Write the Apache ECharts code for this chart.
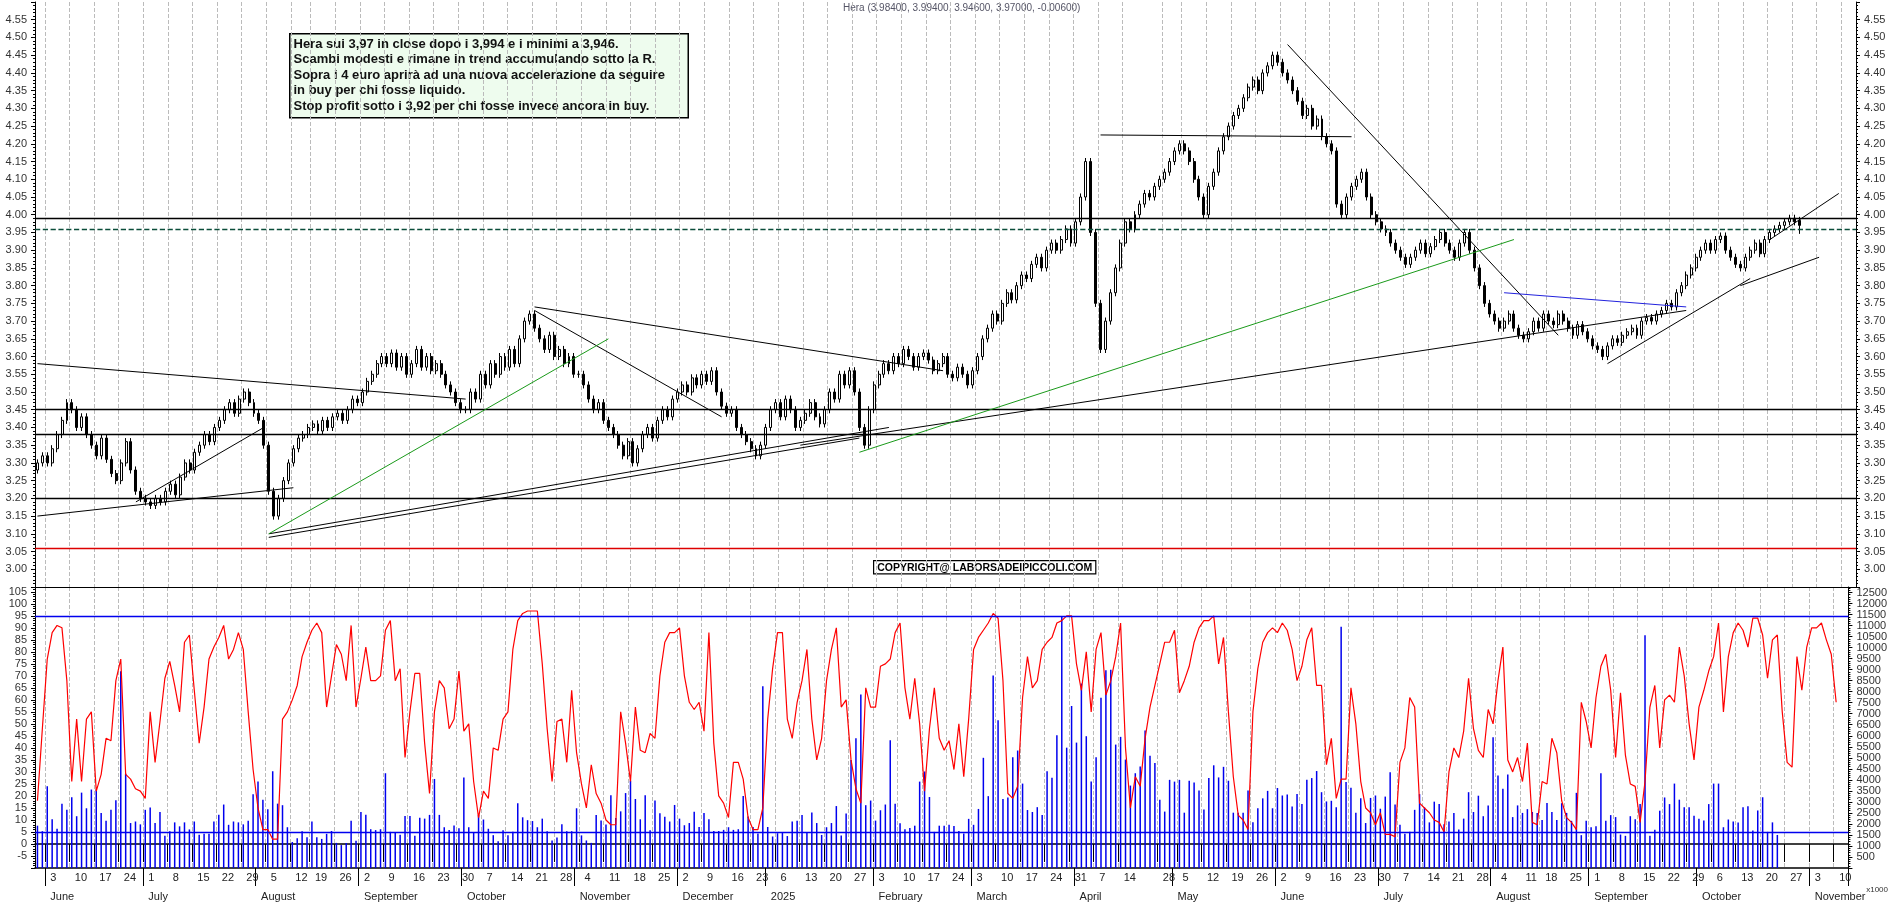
<!DOCTYPE html>
<html>
<head>
<meta charset="utf-8">
<script src="https://cdn.jsdelivr.net/npm/echarts@6/dist/echarts.min.js"></script>
<style>
html, body { margin: 0; padding: 0; background: #fff; }
#chart { width: 1890px; height: 902px; }
</style>
</head>
<body>
<div id="chart"></div>
<script>
// closing prices, month by month (trading days)
var closeMay24 = [3.30, 3.32];
var closeJun24 = [3.30,3.34,3.38,3.42,3.47,3.45,3.40,3.43,3.38,3.35,3.32,3.37,3.31,3.27,3.25,3.30,3.36,3.28,3.22,3.20];
var closeJul24 = [3.19,3.18,3.20,3.19,3.22,3.24,3.21,3.26,3.30,3.28,3.33,3.35,3.38,3.36,3.40,3.42,3.45,3.47,3.44,3.48,3.50,3.47,3.44];
var closeAug24 = [3.42,3.35,3.22,3.15,3.20,3.25,3.30,3.34,3.37,3.38,3.40,3.41,3.39,3.42,3.40,3.43,3.44,3.42,3.45,3.48,3.47];
var closeSep24 = [3.50,3.53,3.55,3.58,3.60,3.58,3.61,3.57,3.60,3.55,3.58,3.62,3.57,3.60,3.56,3.58,3.55,3.52,3.50,3.47,3.45];
var closeOct24 = [3.45,3.50,3.48,3.55,3.52,3.58,3.55,3.60,3.57,3.62,3.58,3.65,3.70,3.72,3.68,3.65,3.62,3.66,3.60,3.62,3.58,3.60,3.55];
var closeNov24 = [3.55,3.52,3.48,3.45,3.47,3.42,3.40,3.38,3.35,3.32,3.36,3.30,3.34,3.38,3.40,3.37,3.42,3.45,3.43,3.48,3.50];
var closeDec24 = [3.52,3.50,3.54,3.52,3.55,3.53,3.56,3.50,3.46,3.44,3.45,3.40,3.38,3.36,3.34,3.32,3.35,3.40];
var closeJan25 = [3.45,3.47,3.43,3.48,3.45,3.40,3.42,3.44,3.47,3.43,3.41,3.45,3.50,3.48,3.55,3.52,3.56,3.50,3.40,3.35,3.45,3.52];
var closeFeb25 = [3.55,3.58,3.56,3.60,3.58,3.62,3.60,3.57,3.60,3.61,3.59,3.56,3.58,3.60,3.55,3.54,3.57,3.55,3.52,3.56];
var closeMar25 = [3.60,3.65,3.68,3.72,3.70,3.75,3.78,3.76,3.80,3.83,3.82,3.86,3.88,3.85,3.90,3.92,3.90,3.93,3.96,3.92,3.98];
var closeApr25 = [4.05,4.15,3.95,3.75,3.62,3.70,3.78,3.85,3.92,3.98,3.96,4.00,4.03,4.06,4.05,4.08,4.10,4.12,4.15,4.18];
var closeMay25 = [4.20,4.18,4.15,4.10,4.05,4.00,4.08,4.12,4.18,4.22,4.25,4.28,4.30,4.33,4.36,4.38,4.35,4.40,4.42,4.45,4.43];
var closeJun25 = [4.40,4.38,4.35,4.32,4.28,4.30,4.25,4.27,4.22,4.20,4.18,4.03,4.00,4.05,4.08,4.10,4.12,4.05,4.00,3.98,3.96];
var closeJul25 = [3.95,3.92,3.90,3.88,3.86,3.88,3.90,3.92,3.89,3.91,3.93,3.95,3.92,3.90,3.88,3.92,3.95,3.90,3.85,3.80,3.75,3.72,3.70];
var closeAug25 = [3.68,3.70,3.72,3.68,3.66,3.65,3.67,3.70,3.68,3.72,3.70,3.69,3.72,3.70,3.68,3.66,3.69,3.67,3.65,3.63];
var closeSep25 = [3.62,3.60,3.63,3.65,3.64,3.66,3.67,3.68,3.66,3.70,3.71,3.70,3.72,3.73,3.75,3.74,3.78,3.80,3.83,3.85,3.88,3.90];
var closeOct25 = [3.92,3.90,3.93,3.94,3.90,3.88,3.86,3.85,3.88,3.90,3.92,3.89,3.93,3.95,3.96,3.97,3.98,3.99,3.98,3.97];
var lastBar = [3.984, 3.970, 3.946, 3.994]; // open, close, low, high

// stochastic oscillator (%)
var stoch = [
 18,48,77,88,91,90,68,26,52,26,52,55,22,29,44,43,68,77,29,27,23,22,19,55,34,51,69,76,66,55,84,87,64,42,57,77,82,86,91,77,81,88,81,55,31,15,6,6,2,2,52,55,60,66,78,84,89,92,88,57,70,83,79,68,91,57,69,82,68,68,70,89,93,68,73,36,55,71,71,42,21,55,68,65,48,52,72,47,50,26,11,22,19,40,
 39,52,55,81,93,96,97,97,97,75,48,26,51,52,34,64,38,25,15,33,21,17,10,8,8,55,42,26,57,39,38,46,44,70,84,88,88,90,70,59,56,59,47,88,42,20,17,11,34,34,27,11,6,6,15,52,73,88,88,52,44,59,68,81,52,35,44,68,81,90,57,60,35,23,17,65,57,57,74,75,77,88,92,65,52,69,50,22,48,65,44,39,43,31,50,
 28,52,81,86,89,92,96,94,68,21,19,24,61,78,65,68,81,84,86,92,93,95,95,75,64,80,55,81,88,62,68,78,92,40,15,28,24,44,57,66,75,84,84,89,63,68,74,84,90,93,93,95,75,86,55,28,12,10,6,55,73,84,88,90,88,92,89,81,68,74,85,90,66,66,33,44,19,27,27,65,50,26,15,13,8,13,4,4,3,34,40,61,57,17,15,13,10,
 9,5,30,40,36,47,69,48,39,36,56,50,68,82,35,30,36,26,42,9,8,26,25,44,38,18,11,9,6,59,51,40,61,74,79,64,36,63,37,25,24,9,26,57,66,40,60,62,59,82,70,50,35,57,64,72,78,92,55,78,88,92,89,82,94,94,87,69,85,87,55,34,32,78,64,82,90,90,92,85,79,59
];

// volume (shares x1000 on the axis scale)
var volume = [
 1920,1670,3710,2210,1780,2920,2640,3210,2350,3420,2710,3560,3560,2490,2140,2640,3070,8930,4280,2040,2110,1980,2640,2740,2040,2540,1460,1670,2070,1890,2070,1750,2110,1510,1550,1550,2110,2420,2880,1960,2110,2070,1980,2140,3350,3920,3100,2670,4390,2920,2850,1850,1180,1350,1670,1390,2110,1390,1320,1550,1680,1140,1040,1140,2140,1240,2540,2420,1760,1720,1760,4300,1640,1600,1510,2360,2360,1460,2280,2240,2410,4040,2410,1850,1720,1930,1800,4110,1850,1600,2410,2200,1780,
 1490,1210,1710,1490,1640,2940,2300,2170,2130,1850,2240,1670,1250,1380,1980,1670,1670,2710,1480,1250,1140,2400,2160,1970,3300,2270,2570,3400,3960,3130,2210,3300,1710,3060,2480,2330,2110,2860,2240,1940,2040,2550,1860,2490,2210,1680,1680,1730,1850,1730,1760,3270,2340,1860,1570,8250,1860,1430,1580,1620,1450,2110,2140,2410,1590,2520,2040,1500,1850,2040,2810,1480,2470,4900,5890,7870,2850,3060,2150,2620,2880,5800,2910,2030,1760,1810,1920,3920,4380,3220,1640,1920,1920,1960,
 1910,1680,1560,2230,1960,2680,5000,3260,8740,6700,3130,3200,5020,5330,3830,2630,2540,2760,2410,4390,4090,6020,11400,5460,7350,5690,8370,5980,3920,5020,7730,8970,9000,5600,5950,4920,3740,4300,4610,6240,5090,4760,3100,2560,4000,3920,4000,2510,3960,3880,3520,2650,4080,4660,4110,4590,3960,2510,2510,2510,3520,2080,2710,3160,3500,2710,3630,3290,3330,2790,3360,2900,4000,4080,4400,3440,3020,3050,2760,10950,3900,3640,2510,3160,2040,3180,3290,2690,3240,4350,2880,1960,
 1550,1650,2640,3350,2750,2070,3010,2900,1990,2110,2500,1750,2240,3440,2540,3280,2350,2840,5930,4200,3600,4240,2310,2840,2500,2670,2540,2500,2180,2950,2540,2180,2940,2500,2140,3410,1490,2140,1850,1890,4300,2140,2400,2310,1520,1460,2350,2210,2900,10560,1460,1740,2600,3200,2900,3830,3100,2760,2760,2370,2240,2150,2900,3830,3830,1850,2200,2110,2070,2760,2800,1700,2610,3210,1640,2070,1500
];

// horizontal levels and trend lines drawn on the price panel
var levelsBlack = [3.99, 3.45, 3.375, 3.20];
var levelDashed = 3.96;
var levelRed = 3.065;
var trendBlack = [
  [['2024-05-30', 3.58], ['2024-10-01', 3.48]],
  [['2024-10-21', 3.74], ['2025-02-20', 3.56]],
  [['2024-10-21', 3.73], ['2024-12-12', 3.43]],
  [['2024-08-05', 3.09], ['2025-01-28', 3.37]],
  [['2024-08-05', 3.10], ['2025-02-05', 3.40]],
  [['2024-05-30', 3.15], ['2024-08-12', 3.23]],
  [['2024-06-27', 3.19], ['2024-08-02', 3.40]],
  [['2025-01-10', 3.35], ['2025-09-25', 3.73]],
  [['2025-04-07', 4.225], ['2025-06-20', 4.22]],
  [['2025-06-03', 4.48], ['2025-08-20', 3.66]],
  [['2025-09-03', 3.58], ['2025-10-14', 3.82]],
  [['2025-10-10', 3.80], ['2025-11-03', 3.88]],
  [['2025-10-20', 3.93], ['2025-11-07', 4.06]]
];
var trendGreen = [
  [['2024-08-05', 3.10], ['2024-11-11', 3.65]],
  [['2025-01-28', 3.33], ['2025-08-06', 3.93]]
];
var trendBlue = [
  [['2025-08-04', 3.78], ['2025-09-25', 3.74]]
];

var holidays = ['2024-08-15','2024-12-24','2024-12-25','2024-12-26','2024-12-31','2025-01-01',
  '2025-04-18','2025-04-21','2025-05-01','2025-08-15'];
var monthNames = ['January','February','March','April','May','June','July','August',
  'September','October','November','December'];

function pad(n) { return n < 10 ? '0' + n : '' + n; }
function fmt(d) { return d.getFullYear() + '-' + pad(d.getMonth() + 1) + '-' + pad(d.getDate()); }

// trading days on the axis
var dates = [];
var d = new Date(2024, 4, 30);
var end = new Date(2025, 10, 12);
while (d <= end) {
  var wd = d.getDay();
  var s = fmt(d);
  if (wd != 0 && wd != 6 && holidays.indexOf(s) < 0) dates.push(s);
  d.setDate(d.getDate() + 1);
}

var closes = [].concat(closeMay24, closeJun24, closeJul24, closeAug24, closeSep24, closeOct24,
  closeNov24, closeDec24, closeJan25, closeFeb25, closeMar25, closeApr25, closeMay25, closeJun25,
  closeJul25, closeAug25, closeSep25, closeOct25);

var candles = [];
for (var i = 0; i < closes.length; i++) {
  var o = i == 0 ? closes[0] - 0.02 : closes[i - 1];
  var c = closes[i];
  candles.push([o, c, Math.min(o, c) - 0.01, Math.max(o, c) + 0.01]);
}
candles[candles.length - 1] = lastBar;

// Monday labels, skipping a Monday that sits too close to the previous one (holiday weeks)
var mondayShown = {};
var lastShown = -10;
for (var k = 0; k < dates.length; k++) {
  if (new Date(dates[k] + 'T12:00:00').getDay() == 1) {
    if (k - lastShown >= 4) { mondayShown[k] = true; lastShown = k; }
  }
}
function isMonday(idx) { return !!mondayShown[idx]; }
function isMonthStart(idx) {
  return idx == 0 ? false : dates[idx].substr(5, 2) != dates[idx - 1].substr(5, 2);
}
function toLines(list) {
  return list.map(function(seg) { return [{ coord: seg[0] }, { coord: seg[1] }]; });
}

var font = 'Liberation Sans';
var gridSplit = { show: true, interval: function(idx) { return isMonday(idx); },
  lineStyle: { color: '#bbb', type: 'dashed', width: 1 } };

var priceAxisCommon = {
  type: 'value', gridIndex: 0, min: 2.95, max: 4.60, interval: 0.05,
  axisLine: { show: true, lineStyle: { color: '#000' } },
  axisTick: { show: true, length: 4, lineStyle: { color: '#000' } },
  minorTick: { show: true, splitNumber: 5, length: 2, lineStyle: { color: '#000' } },
  splitLine: { show: false },
  axisLabel: { fontFamily: font, fontSize: 11, color: '#333',
    formatter: function(v) { return v > 4.575 || v < 2.975 ? '' : v.toFixed(2); } }
};

var myChart = echarts.init(document.getElementById('chart'));
var option = {
  animation: false,
  backgroundColor: '#fff',
  grid: [
    { left: 35, right: 34, top: 2, height: 585 },
    { left: 35, right: 34, top: 587, height: 290 }
  ],
  xAxis: [
    { type: 'category', gridIndex: 0, data: dates, boundaryGap: true,
      axisLine: { show: true, lineStyle: { color: '#000' } }, axisTick: { show: false },
      axisLabel: { show: false }, splitLine: gridSplit },
    { type: 'category', gridIndex: 1, data: dates, boundaryGap: true,
      axisLine: { show: true, lineStyle: { color: '#000', width: 1.5 } },
      axisTick: { show: true, inside: false, length: 18, lineStyle: { color: '#000' },
        interval: function(idx) { return isMonday(idx); } },
      axisLabel: { fontFamily: font, fontSize: 11, color: '#222', margin: 4, align: 'left',
        interval: function(idx) { return isMonday(idx); },
        formatter: function(v) { return ' ' + parseInt(v.substr(8, 2), 10); } },
      splitLine: gridSplit },
    { type: 'category', gridIndex: 1, data: dates, boundaryGap: true, position: 'bottom', offset: 18,
      axisLine: { show: true, lineStyle: { color: '#000', width: 1.5 } },
      axisTick: { show: true, length: 18, lineStyle: { color: '#000' },
        interval: function(idx) { return isMonthStart(idx); } },
      axisLabel: { fontFamily: font, fontSize: 11, color: '#222', margin: 5, align: 'left',
        interval: function(idx) { return isMonthStart(idx); },
        formatter: function(v) {
          var m = parseInt(v.substr(5, 2), 10) - 1;
          return m == 0 ? ' ' + v.substr(0, 4) : ' ' + monthNames[m];
        } },
      splitLine: { show: false } }
  ],
  yAxis: [
    Object.assign({}, priceAxisCommon, { position: 'left' }),
    Object.assign({}, priceAxisCommon, { position: 'right' }),
    { type: 'value', gridIndex: 1, position: 'left', min: -10, max: 107, interval: 5,
      axisLine: { show: true, lineStyle: { color: '#000' } },
      axisTick: { show: true, length: 4, lineStyle: { color: '#000' } },
      minorTick: { show: true, splitNumber: 5, length: 2, lineStyle: { color: '#000' } },
      splitLine: { show: false },
      axisLabel: { fontFamily: font, fontSize: 11, color: '#333',
        formatter: function(v) { return v < -5 || v > 105 ? '' : v; } } },
    { type: 'value', gridIndex: 1, position: 'right', min: 0, max: 12750, interval: 500,
      axisLine: { show: true, lineStyle: { color: '#000' } },
      axisTick: { show: true, length: 4, lineStyle: { color: '#000' } },
      minorTick: { show: true, splitNumber: 5, length: 2, lineStyle: { color: '#000' } },
      splitLine: { show: false },
      axisLabel: { fontFamily: font, fontSize: 11, color: '#333',
        formatter: function(v) { return v == 0 || v > 12500 ? '' : v; } } }
  ],
  series: [
    { type: 'candlestick', xAxisIndex: 0, yAxisIndex: 1, data: candles, barMaxWidth: 4,
      itemStyle: { color: '#fff', color0: '#000', borderColor: '#000', borderColor0: '#000', borderWidth: 1 },
      markLine: {
        symbol: 'none', silent: true, label: { show: false },
        data: levelsBlack.map(function(v) { return { yAxis: v, lineStyle: { color: '#000', width: 1.3, type: 'solid' } }; })
          .concat([{ yAxis: levelDashed, lineStyle: { color: '#0b4d3a', width: 1.3, type: 'dashed' } },
                   { yAxis: levelRed, lineStyle: { color: '#d00', width: 1.3, type: 'solid' } }])
          .concat(toLines(trendBlack).map(function(p) { p[0].lineStyle = { color: '#000', width: 1, type: 'solid' }; return p; }))
          .concat(toLines(trendGreen).map(function(p) { p[0].lineStyle = { color: '#1a9a1a', width: 1, type: 'solid' }; return p; }))
          .concat(toLines(trendBlue).map(function(p) { p[0].lineStyle = { color: '#2222dd', width: 1, type: 'solid' }; return p; }))
      } },
    { type: 'bar', xAxisIndex: 1, yAxisIndex: 3, data: volume, barWidth: 1.5,
      itemStyle: { color: '#0000ee' } },
    { type: 'line', xAxisIndex: 1, yAxisIndex: 2, data: stoch, symbol: 'none',
      lineStyle: { color: '#f00', width: 1.2 },
      markLine: { symbol: 'none', silent: true, label: { show: false },
        lineStyle: { color: '#0000ee', width: 1.3, type: 'solid' },
        data: [{ yAxis: 95 }, { yAxis: 5 }] } }
  ],
  graphic: [
    { type: 'text', left: 843, top: 3,
      style: { text: 'Hera (3.98400, 3.99400, 3.94600, 3.97000, -0.00600)', font: '10px "Liberation Sans"', fill: '#556' } },
    { type: 'text', left: 289, top: 33,
      style: {
        text: 'Hera sui 3,97 in close dopo i 3,994 e i minimi a 3,946.\nScambi modesti e rimane in trend accumulando sotto la R.\nSopra i 4 euro aprirà ad una nuova accelerazione da seguire\nin buy per chi fosse liquido.\nStop profit sotto i 3,92 per chi fosse invece ancora in buy.',
        font: 'bold 13px "Liberation Sans"', fill: '#111', lineHeight: 15.5,
        backgroundColor: '#eefcee', borderColor: '#000', borderWidth: 1.5,
        padding: [2, 4, 3, 3], width: 390, overflow: 'none'
      } },
    { type: 'text', left: 873, top: 560,
      style: { text: 'COPYRIGHT@ LABORSADEIPICCOLI.COM', font: 'bold 10.5px "Liberation Sans"', fill: '#000',
        backgroundColor: '#fff', borderColor: '#000', borderWidth: 1.2, padding: [1, 3, 0, 3] } },
    { type: 'text', right: 2, top: 886,
      style: { text: 'x1000', font: '8px "Liberation Sans"', fill: '#333' } }
  ]
};
myChart.setOption(option);
</script>
</body>
</html>
